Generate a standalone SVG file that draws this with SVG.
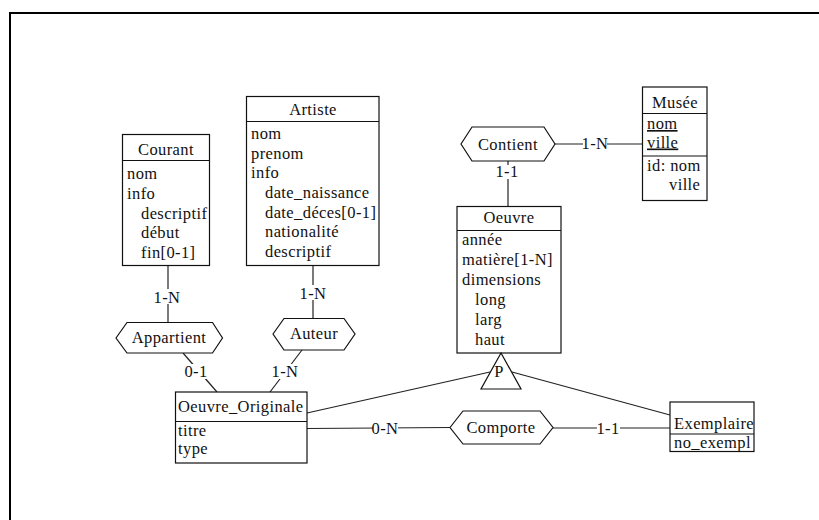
<svg xmlns="http://www.w3.org/2000/svg" width="819" height="520" viewBox="0 0 819 520">
  <style>
    text { font-family: "Liberation Serif", "DejaVu Serif", "Times New Roman", serif; font-size: 16.5px; letter-spacing: 0.4px; fill: #111; }
    .box { fill: #fff; stroke: #111; stroke-width: 1.2; }
    .sep { stroke: #111; stroke-width: 1.2; }
    .hex { fill: #fff; stroke: #111; stroke-width: 1.2; }
    .link { stroke: #222; stroke-width: 1.2; fill: none; }
    .lbl { fill: #fff; }
    .mid { text-anchor: middle; }
    .u { text-decoration: underline; }
  </style>
  <rect width="819" height="520" fill="#fff"/>
  <!-- page frame, open on the right and bottom -->
  <path d="M10,520 V13 H819" fill="none" stroke="#000" stroke-width="2"/>

  <!-- connectors -->
  <g id="connectors">
    <line class="link" x1="168" y1="266" x2="168" y2="322"/>
    <rect class="lbl" x="156" y="289" width="24" height="15"/>
    <text class="mid" x="167" y="303">1-N</text>

    <line class="link" x1="313" y1="266" x2="313" y2="318"/>
    <rect class="lbl" x="301" y="285" width="24" height="15"/>
    <text class="mid" x="313" y="299">1-N</text>

    <line class="link" x1="183" y1="353" x2="217" y2="392"/>
    <rect class="lbl" x="185" y="364" width="22" height="15"/>
    <text class="mid" x="196" y="377">0-1</text>

    <line class="link" x1="302" y1="350" x2="270" y2="392"/>
    <rect class="lbl" x="273" y="364" width="24" height="15"/>
    <text class="mid" x="285" y="377">1-N</text>

    <line class="link" x1="307" y1="428.5" x2="450" y2="427.5"/>
    <rect class="lbl" x="373" y="420" width="25" height="15"/>
    <text class="mid" x="385" y="434">0-N</text>

    <line class="link" x1="553" y1="428" x2="670" y2="428"/>
    <rect class="lbl" x="597" y="420" width="23" height="15"/>
    <text class="mid" x="608" y="434">1-1</text>

    <line class="link" x1="555" y1="144" x2="642" y2="144"/>
    <rect class="lbl" x="583" y="136" width="24" height="15"/>
    <text class="mid" x="595" y="149">1-N</text>

    <line class="link" x1="508" y1="161" x2="508" y2="207"/>
    <rect class="lbl" x="497" y="165" width="22" height="14"/>
    <text class="mid" x="507" y="177">1-1</text>

    <line class="link" x1="307" y1="413" x2="490" y2="372"/>
    <line class="link" x1="512" y1="372" x2="670" y2="415"/>
  </g>

  <!-- Courant -->
  <g id="courant">
    <rect class="box" x="122.5" y="134.5" width="87" height="131"/>
    <line class="sep" x1="122.5" y1="160.5" x2="209.5" y2="160.5"/>
    <text class="mid" x="166" y="155">Courant</text>
    <text x="127" y="179">nom</text>
    <text x="127" y="199">info</text>
    <text x="141" y="218.5">descriptif</text>
    <text x="141" y="238">début</text>
    <text x="141" y="258">fin[0-1]</text>
  </g>

  <!-- Artiste -->
  <g id="artiste">
    <rect class="box" x="246.5" y="96.5" width="132.5" height="169"/>
    <line class="sep" x1="246.5" y1="121.5" x2="379" y2="121.5"/>
    <text class="mid" x="313" y="115">Artiste</text>
    <text x="251" y="139">nom</text>
    <text x="251" y="158.7">prenom</text>
    <text x="251" y="178.4">info</text>
    <text x="265" y="198">date_naissance</text>
    <text x="265" y="217.7">date_déces[0-1]</text>
    <text x="265" y="237.4">nationalité</text>
    <text x="265" y="257">descriptif</text>
  </g>

  <!-- Musée -->
  <g id="musee">
    <rect class="box" x="642.5" y="87" width="64.5" height="113.5"/>
    <line class="sep" x1="642.5" y1="113.5" x2="707" y2="113.5"/>
    <line class="sep" x1="642.5" y1="156" x2="707" y2="156"/>
    <text class="mid" x="675" y="108">Musée</text>
    <text class="u" x="647" y="129">nom</text>
    <text class="u" x="647" y="147.5">ville</text>
    <text x="647" y="171">id: nom</text>
    <text x="669" y="190">ville</text>
  </g>

  <!-- Contient -->
  <g id="contient">
    <polygon class="hex" points="461,144 472,127 544,127 555,144 544,161 472,161"/>
    <text class="mid" x="508" y="149.5">Contient</text>
  </g>

  <!-- Oeuvre -->
  <g id="oeuvre">
    <rect class="box" x="457" y="206.5" width="104" height="146.5"/>
    <line class="sep" x1="457" y1="230.5" x2="561" y2="230.5"/>
    <text class="mid" x="509" y="223">Oeuvre</text>
    <text x="462" y="245">année</text>
    <text x="462" y="265">matière[1-N]</text>
    <text x="462" y="285">dimensions</text>
    <text x="475" y="304.7">long</text>
    <text x="475" y="324.6">larg</text>
    <text x="475" y="344.5">haut</text>
  </g>

  <!-- partition triangle -->
  <g id="partition">
    <polygon class="hex" points="501,353 481,389 521,389"/>
    <text class="mid" x="499" y="377">P</text>
  </g>

  <!-- Appartient -->
  <g id="appartient">
    <polygon class="hex" points="116,338 127,322.5 212.5,322.5 222.5,338 212.5,353 127,353"/>
    <text class="mid" x="169" y="343">Appartient</text>
  </g>

  <!-- Auteur -->
  <g id="auteur">
    <polygon class="hex" points="273,334 284,318.5 344,318.5 355,334 344,350 284,350"/>
    <text class="mid" x="314" y="339">Auteur</text>
  </g>

  <!-- Oeuvre_Originale -->
  <g id="oeuvre_originale">
    <rect class="box" x="175.5" y="392" width="131.5" height="71"/>
    <line class="sep" x1="175.5" y1="421.5" x2="307" y2="421.5"/>
    <text x="178" y="412" letter-spacing="0.1">Oeuvre_Originale</text>
    <text x="178" y="435.5">titre</text>
    <text x="178" y="454">type</text>
  </g>

  <!-- Comporte -->
  <g id="comporte">
    <polygon class="hex" points="450,427.5 463,411 540,411 553,427.5 540,444 463,444"/>
    <text class="mid" x="501" y="433">Comporte</text>
  </g>

  <!-- Exemplaire -->
  <g id="exemplaire">
    <rect class="box" x="670" y="402" width="84" height="49.5"/>
    <line class="sep" x1="670" y1="434" x2="754" y2="434"/>
    <text x="674" y="429" font-size="15.6" letter-spacing="0">Exemplaire</text>
    <text x="674" y="447.5" letter-spacing="0">no_exempl</text>
  </g>
</svg>
